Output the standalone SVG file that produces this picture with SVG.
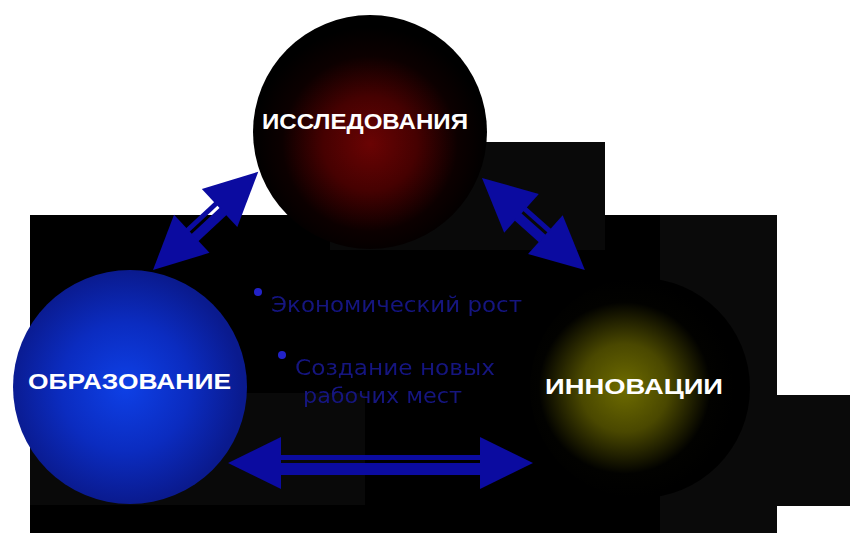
<svg xmlns="http://www.w3.org/2000/svg" width="850" height="533" viewBox="0 0 850 533">
<defs>
<radialGradient id="gRed" cx="0.5" cy="0.55" r="0.5">
<stop offset="0" stop-color="#6a0303"/>
<stop offset="0.4" stop-color="#460101"/>
<stop offset="0.75" stop-color="#0c0000"/>
<stop offset="1" stop-color="#000"/>
</radialGradient>
<radialGradient id="gBlue" cx="0.48" cy="0.5" r="0.5">
<stop offset="0" stop-color="#0e40e6"/>
<stop offset="0.55" stop-color="#0b2cc0"/>
<stop offset="1" stop-color="#0a1a8e"/>
</radialGradient>
<radialGradient id="gYel" cx="0.43" cy="0.5" r="0.5">
<stop offset="0" stop-color="#6e6c00"/>
<stop offset="0.4" stop-color="#4a4800"/>
<stop offset="0.78" stop-color="#020200"/>
<stop offset="1" stop-color="#000"/>
</radialGradient>
<filter id="soft" x="-5%" y="-20%" width="110%" height="140%">
<feGaussianBlur stdDeviation="0.5"/>
</filter>
<style>
.lbl{font-family:"Liberation Sans",Arial,sans-serif;font-weight:bold;font-size:22px;fill:#fff}
.mid{font-family:"DejaVu Sans",Verdana,sans-serif;font-size:21px;fill:#14147e}
.arr{fill:#0b0ba0}
</style>
</defs>
<rect width="850" height="533" fill="#fff"/>
<g id="background">
<rect x="30" y="215" width="747" height="318" fill="#000"/>
<rect x="330" y="142" width="275" height="108" fill="#090909"/>
<rect x="30" y="393" width="335" height="112" fill="#090909"/>
<rect x="660" y="215" width="117" height="318" fill="#0a0a0a"/>
<rect x="777" y="395" width="73" height="111" fill="#0a0a0a"/>
</g>
<g id="connectors">
<g transform="translate(228,463)">
<polygon class="arr" points="0,0 53,-26 53,26"/>
<polygon class="arr" points="305,0 252,-26 252,26"/>
<rect class="arr" x="52" y="-8" width="201" height="5"/>
<rect class="arr" x="52" y="0" width="201" height="12"/>
</g>
<g transform="translate(153,270) rotate(-43)">
<polygon class="arr" points="0,0 53,-26 53,26"/>
<polygon class="arr" points="144,0 91,-26 91,26"/>
<rect class="arr" x="52" y="-8" width="40" height="5"/>
<rect class="arr" x="52" y="0" width="40" height="10"/>
</g>
<g transform="translate(482,178) rotate(41.8)">
<polygon class="arr" points="0,0 53,-26 53,26"/>
<polygon class="arr" points="138,0 85,-26 85,26"/>
<rect class="arr" x="52" y="-8" width="34" height="5"/>
<rect class="arr" x="52" y="0" width="34" height="10"/>
</g>
</g>
<g id="research">
<circle cx="370" cy="132" r="117" fill="url(#gRed)"/>
<text class="lbl" x="262" y="129" textLength="206" lengthAdjust="spacingAndGlyphs">ИССЛЕДОВАНИЯ</text>
</g>
<g id="education">
<circle cx="130" cy="387" r="117" fill="url(#gBlue)"/>
<text class="lbl" x="28" y="389" textLength="203" lengthAdjust="spacingAndGlyphs">ОБРАЗОВАНИЕ</text>
</g>
<g id="innovation">
<circle cx="640" cy="388" r="110" fill="url(#gYel)"/>
<text class="lbl" x="545" y="394" textLength="178" lengthAdjust="spacingAndGlyphs">ИННОВАЦИИ</text>
</g>
<g id="effects" filter="url(#soft)">
<circle cx="258" cy="292" r="4" fill="#2222c8"/>
<text class="mid" x="271" y="312" textLength="251" lengthAdjust="spacingAndGlyphs">Экономический рост</text>
<circle cx="282" cy="355" r="4" fill="#2222c8"/>
<text class="mid" x="295" y="375" textLength="200" lengthAdjust="spacingAndGlyphs">Создание новых</text>
<text class="mid" x="303" y="403" textLength="159" lengthAdjust="spacingAndGlyphs">рабочих мест</text>
</g>
</svg>
